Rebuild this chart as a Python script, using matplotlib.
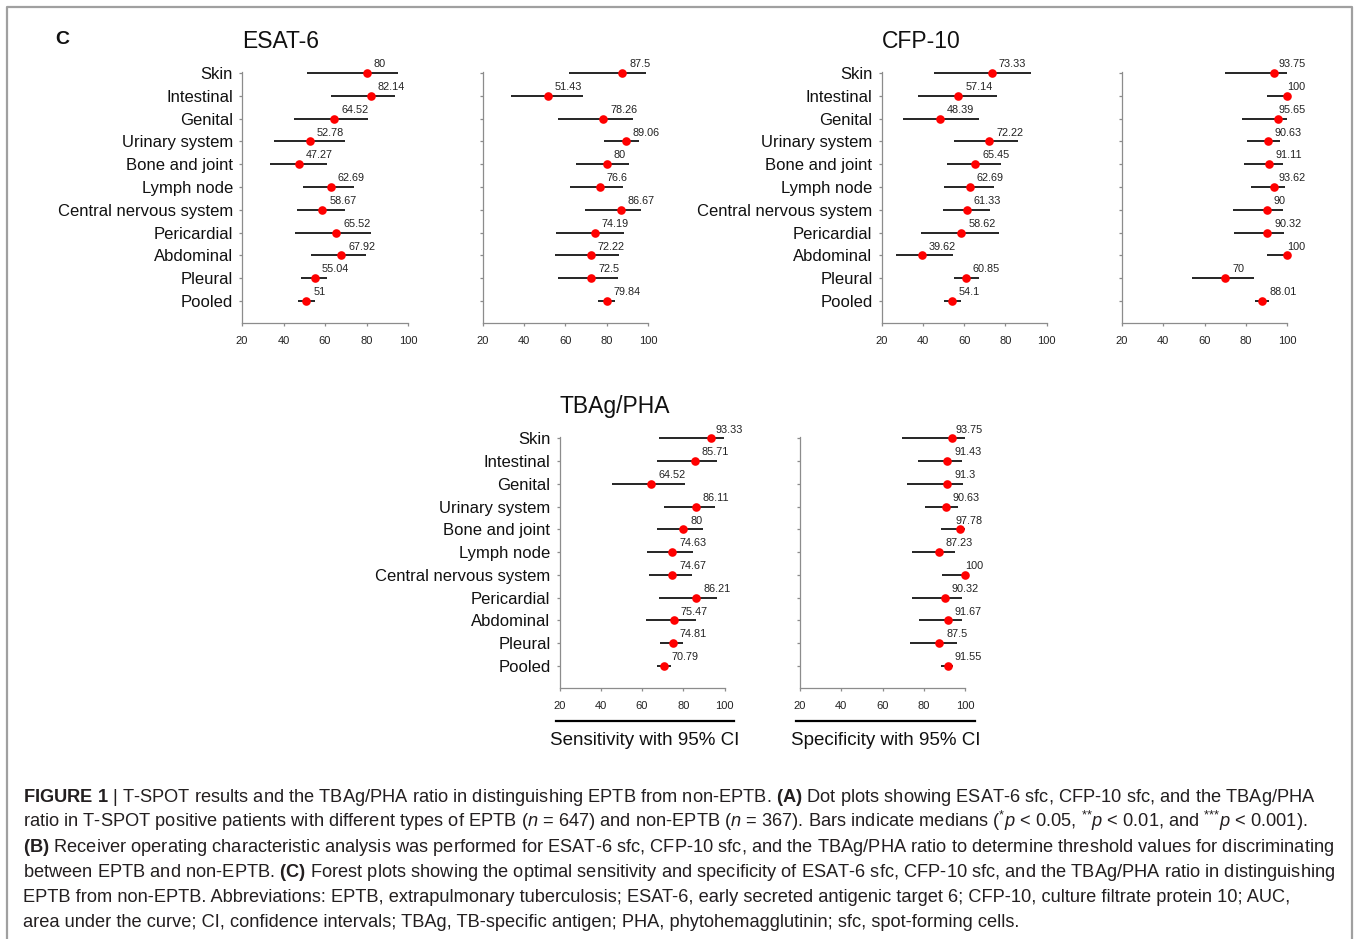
import matplotlib
matplotlib.use('Agg')
import matplotlib.pyplot as plt
from matplotlib.lines import Line2D

plt.rcParams['font.family'] = ['Liberation Sans', 'DejaVu Sans']
plt.rcParams['mathtext.fontset'] = 'custom'
plt.rcParams['mathtext.rm'] = 'Liberation Sans'
plt.rcParams['mathtext.it'] = 'Liberation Sans:italic'
plt.rcParams['mathtext.bf'] = 'Liberation Sans:bold'

# ---------------- data ----------------
categories = ["Skin", "Intestinal", "Genital", "Urinary system", "Bone and joint",
              "Lymph node", "Central nervous system", "Pericardial", "Abdominal",
              "Pleural", "Pooled"]
x_ticks = [20, 40, 60, 80, 100]

esat_sens = [80, 82.14, 64.52, 52.78, 47.27, 62.69, 58.67, 65.52, 67.92, 55.04, 51]
esat_sens_lo = [51.5, 62.8, 45.0, 35.3, 33.4, 49.6, 46.7, 45.4, 53.4, 48.6, 46.9]
esat_sens_hi = [95.4, 93.5, 80.6, 69.6, 60.9, 74.1, 69.8, 82.2, 79.8, 61.0, 55.1]

esat_spec = [87.5, 51.43, 78.26, 89.06, 80, 76.6, 86.67, 74.19, 72.22, 72.5, 79.84]
esat_spec_lo = [61.7, 33.9, 56.3, 78.6, 65.2, 62.0, 69.3, 55.5, 54.9, 56.2, 75.6]
esat_spec_hi = [98.8, 68.6, 92.7, 95.6, 90.6, 88.0, 96.4, 88.5, 85.9, 85.6, 83.8]

cfp_sens = [73.33, 57.14, 48.39, 72.22, 65.45, 62.69, 61.33, 58.62, 39.62, 60.85, 54.1]
cfp_sens_lo = [45.3, 37.6, 30.3, 55.3, 51.7, 50.3, 49.9, 39.2, 26.8, 54.9, 50.4]
cfp_sens_hi = [92.3, 75.7, 67.2, 85.9, 77.8, 74.4, 72.5, 76.7, 54.5, 67.2, 58.3]

cfp_spec = [93.75, 100, 95.65, 90.63, 91.11, 93.62, 90, 90.32, 100, 70, 88.01]
cfp_spec_lo = [70.1, 90.2, 78.1, 80.7, 79.1, 82.6, 73.6, 74.4, 90.4, 53.8, 84.4]
cfp_spec_hi = [99.8, 100, 99.8, 96.7, 97.8, 98.7, 97.8, 98.3, 100, 83.8, 91.2]

tb_sens = [93.33, 85.71, 64.52, 86.11, 80, 74.63, 74.67, 86.21, 75.47, 74.81, 70.79]
tb_sens_lo = [68.2, 67.2, 45.3, 70.6, 67.1, 62.2, 63.2, 68.4, 61.9, 68.9, 67.1]
tb_sens_hi = [99.8, 96.3, 81.0, 95.3, 89.6, 84.6, 84.0, 96.3, 86.2, 79.9, 74.2]

tb_spec = [93.75, 91.43, 91.3, 90.63, 97.78, 87.23, 100, 90.32, 91.67, 87.5, 91.55]
tb_spec_lo = [69.6, 77.4, 72.0, 80.6, 88.3, 74.3, 88.7, 74.4, 77.7, 73.2, 88.2]
tb_spec_hi = [99.8, 98.5, 99.0, 96.7, 100, 95.1, 100, 98.4, 98.5, 96.1, 94.3]

panel_titles = ["ESAT-6", "CFP-10", "TBAg/PHA"]
axis_labels = ["Sensitivity with 95% CI", "Specificity with 95% CI"]

caption_lines = [
    r"$\mathbf{FIGURE\ 1}$ | T-SPOT results and the TBAg/PHA ratio in distinguishing EPTB from non-EPTB. $\mathbf{(A)}$ Dot plots showing ESAT-6 sfc, CFP-10 sfc, and the TBAg/PHA",
    r"ratio in T-SPOT positive patients with different types of EPTB ($\mathit{n}$ = 647) and non-EPTB ($\mathit{n}$ = 367). Bars indicate medians (${}^{{*}}\mathit{p}$ < 0.05, ${}^{{*}{*}}\mathit{p}$ < 0.01, and ${}^{{*}{*}{*}}\mathit{p}$ < 0.001).",
    r"$\mathbf{(B)}$ Receiver operating characteristic analysis was performed for ESAT-6 sfc, CFP-10 sfc, and the TBAg/PHA ratio to determine threshold values for discriminating",
    r"between EPTB and non-EPTB. $\mathbf{(C)}$ Forest plots showing the optimal sensitivity and specificity of ESAT-6 sfc, CFP-10 sfc, and the TBAg/PHA ratio in distinguishing",
    r"EPTB from non-EPTB. Abbreviations: EPTB, extrapulmonary tuberculosis; ESAT-6, early secreted antigenic target 6; CFP-10, culture filtrate protein 10; AUC,",
    r"area under the curve; CI, confidence intervals; TBAg, TB-specific antigen; PHA, phytohemagglutinin; sfc, spot-forming cells.",
]

# ---------------- layout ----------------
W, H = 1356, 939
fig = plt.figure(figsize=(W / 100, H / 100), dpi=100)
fig.patch.set_facecolor('white')


def fx(px):
    return px / W


def fy(py):
    return 1 - py / H


def make_ax(x0, x1, ytop, ybot):
    return fig.add_axes([fx(x0), fy(ybot), fx(x1) - fx(x0), (ybot - ytop) / H])


def draw_panel(ax, vals, lo, hi, show_labels):
    ypos = list(range(len(categories)))
    xerr = [[v - l for v, l in zip(vals, lo)], [h - v for v, h in zip(vals, hi)]]
    cont = ax.errorbar(vals, ypos, xerr=xerr, fmt='o', color='#ff0000', ecolor='black',
                       elinewidth=1.2, capsize=2.4, capthick=1.2, markersize=6.2,
                       markeredgewidth=0, zorder=3)
    data_line, caplines, barcols = cont.lines
    arts = [data_line] + list(caplines) + list(barcols)
    for art in arts:
        art.set_clip_on(False)
    data_line.set_zorder(4)
    ax.set_xlim(20, 100)
    ax.set_ylim(10.95, -0.05)
    ax.set_xticks(x_ticks)
    ax.set_xticklabels([str(t) for t in x_ticks])
    ax.set_yticks(ypos)
    if show_labels:
        ax.set_yticklabels(categories)
    else:
        ax.set_yticklabels([])
    for s in ['top', 'right']:
        ax.spines[s].set_visible(False)
    for s in ['left', 'bottom']:
        ax.spines[s].set_color('#8c8c8c')
        ax.spines[s].set_linewidth(0.9)
    ax.tick_params(axis='x', direction='out', length=2.5, width=0.9, color='#8c8c8c',
                   labelsize=8, labelcolor='#222222', pad=7)
    ax.tick_params(axis='y', direction='out', length=2.5, width=0.9, color='#8c8c8c',
                   labelsize=12, labelcolor='#111111', pad=4)
    ax.patch.set_alpha(0)
    texts = []
    for v, yy in zip(vals, ypos):
        t = ax.annotate(f"{v:g}", xy=(v, yy), xytext=(5, 4.2), textcoords='offset points',
                        ha='left', va='baseline', fontsize=7.8, color='#222222',
                        annotation_clip=False)
        texts.append(t)
    return texts


top_ytop, top_ybot = 71.9, 322.7
bot_ytop, bot_ybot = 437.2, 687.6

panels = [
    (242, 408, top_ytop, top_ybot, esat_sens, esat_sens_lo, esat_sens_hi, True),
    (482.6, 648.3, top_ytop, top_ybot, esat_spec, esat_spec_lo, esat_spec_hi, False),
    (881.5, 1046.7, top_ytop, top_ybot, cfp_sens, cfp_sens_lo, cfp_sens_hi, True),
    (1121.7, 1287.3, top_ytop, top_ybot, cfp_spec, cfp_spec_lo, cfp_spec_hi, False),
    (559.5, 724.5, bot_ytop, bot_ybot, tb_sens, tb_sens_lo, tb_sens_hi, True),
    (800, 965, bot_ytop, bot_ybot, tb_spec, tb_spec_lo, tb_spec_hi, False),
]

all_labels = []
axes = []
for (x0, x1, yt, yb, v, lo, hi, lab) in panels:
    ax = make_ax(x0, x1, yt, yb)
    axes.append(ax)
    all_labels.append((ax, draw_panel(ax, v, lo, hi, lab)))

# titles
fig.text(fx(242), fy(48), panel_titles[0], fontsize=16.5, ha='left', va='baseline', color='#111111')
fig.text(fx(882), fy(48), panel_titles[1], fontsize=16.5, ha='left', va='baseline', color='#111111')
fig.text(fx(560), fy(413), panel_titles[2], fontsize=16.5, ha='left', va='baseline', color='#111111')
fig.text(fx(55), fy(44), "C", fontsize=14, fontweight='bold', ha='left', va='baseline', color='#111111')

# bottom axis labels with rule
for (x0, x1), lab in zip([(556, 734), (796, 975)], axis_labels):
    fig.add_artist(Line2D([fx(x0), fx(x1)], [fy(721), fy(721)], transform=fig.transFigure,
                          color='black', lw=1.6))
    fig.text(fx((x0 + x1) / 2), fy(745), lab, fontsize=13.5, ha='center', va='baseline',
             color='#111111')

# frame
fig.add_artist(Line2D([fx(7), fx(7), fx(1351.5), fx(1351.5)], [fy(939), fy(6.5), fy(6.5), fy(939)],
                      transform=fig.transFigure, color='#a0a0a0', lw=1.6))

# caption
cap_texts = []
for i, line in enumerate(caption_lines):
    t = fig.text(fx(23), fy(802 + 25 * i), line, fontsize=12, ha='left', va='baseline',
                 color='#231f20')
    cap_texts.append(t)

fig.canvas.draw()
renderer = fig.canvas.get_renderer()
targets = [1294, 1309, 1303, 1307, 1286, 960]
meas = sum(t.get_window_extent(renderer).width for t in cap_texts)
scale = sum(targets) / meas
for t in cap_texts:
    t.set_fontsize(12 * scale)

# keep value labels from running too far beyond the right edge
fig.canvas.draw()
renderer = fig.canvas.get_renderer()
for ax, texts in all_labels:
    right_px = ax.transData.transform((100, 0))[0] + 18
    for t in texts:
        bb = t.get_window_extent(renderer)
        if bb.x1 > right_px:
            shift_pts = (bb.x1 - right_px) * 72 / fig.dpi
            ox, oy = t.xyann
            t.xyann = (ox - shift_pts, oy)

fig.savefig('out.png', dpi=100, facecolor='white')
